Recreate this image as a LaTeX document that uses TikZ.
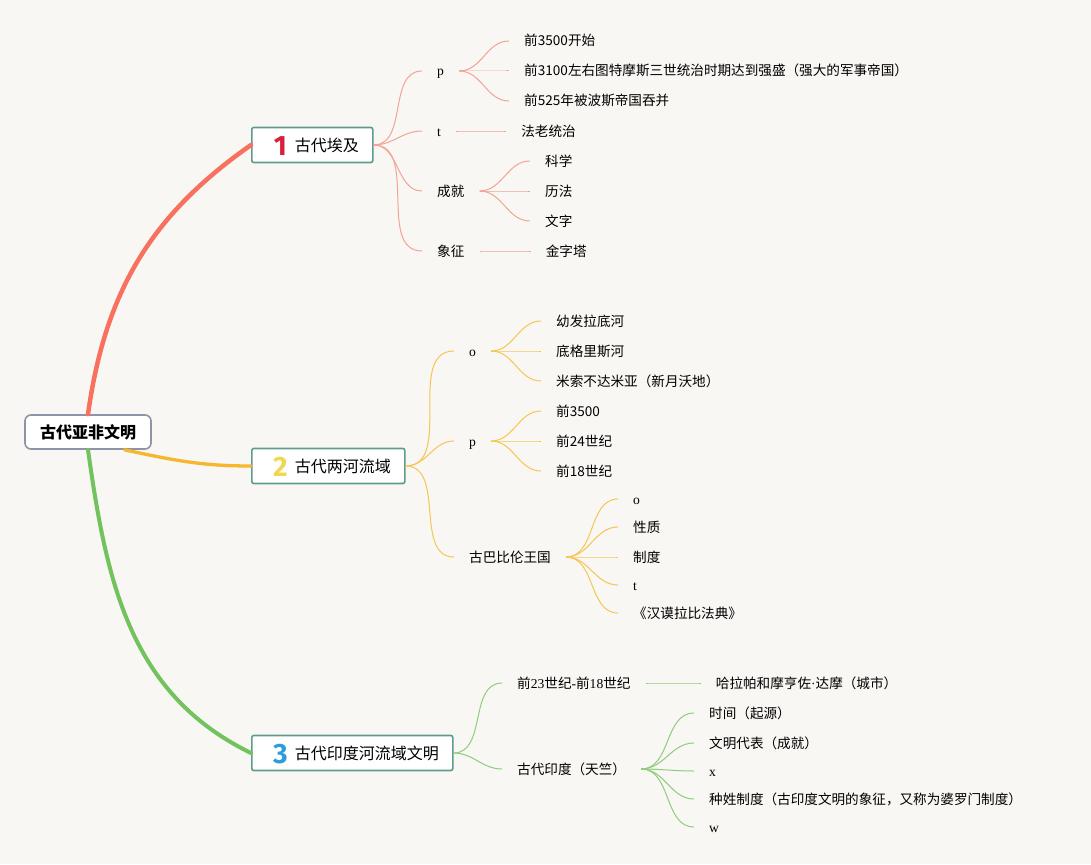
\documentclass[tikz,border=0pt]{standalone}
\usepackage{xcolor}
\usepackage{fontspec}
\usepackage{tikz}
\usetikzlibrary{positioning}

\setmainfont{Noto Sans CJK SC}
\newfontfamily\latinfont{Liberation Serif}
\newfontfamily\numfont{Fira Sans}

\definecolor{paper}{HTML}{F8F7F3}
\definecolor{rootline}{HTML}{8E93A8}
\definecolor{topicline}{HTML}{5E9C8F}
\definecolor{egyptmain}{HTML}{F8705E}
\definecolor{egyptthin}{HTML}{F4A294}
\definecolor{rivermain}{HTML}{F6B62D}
\definecolor{riverthin}{HTML}{F6C552}
\definecolor{indusmain}{HTML}{72C35D}
\definecolor{industhin}{HTML}{8FCC7E}
\definecolor{numone}{HTML}{D71F3B}
\definecolor{numtwo}{HTML}{F1D650}
\definecolor{numthree}{HTML}{2B9CDC}

\newcommand{\topicnum}[2]{\makebox[29pt][c]{\raisebox{-4pt}{\numfont\bfseries\fontsize{28}{28}\selectfont\color{#1}#2}}}
\newcommand{\lat}[1]{{\latinfont #1}}

\begin{document}
\begin{tikzpicture}[
    x = 1pt, y = 1pt, % one unit is one pixel of the sketch
    node distance = 50pt, % length of a single branch
    every node/.style = {font=\fontsize{13.6}{16}\selectfont, text height=12pt, text depth=2pt},
    fan/.style = {out=0, in=180}, % mind map curve
    egyptline/.style = {line width=1pt, egyptthin},
    riverline/.style = {line width=1pt, riverthin},
    indusline/.style = {line width=1pt, industhin},
    main branch/.style = {line cap=round}
]
\tikzstyle{item}=[
    anchor = west,
    inner xsep = 15pt,
    inner ysep = 0pt
]
\tikzstyle{topic}=[
    draw = topicline,
    line width = 1.6pt,
    fill = white,
    rounded corners = 2pt,
    anchor = west,
    minimum height = 35pt,
    inner xsep = 14pt,
    text height = 14pt,
    text depth = 2pt,
    font = \fontsize{16}{18}\selectfont
]
\tikzstyle{root}=[
    draw = rootline,
    line width = 1.6pt,
    fill = white,
    rounded corners = 6pt,
    minimum width = 126pt,
    minimum height = 34pt,
    text height = 14pt,
    text depth = 2pt,
    font = \fontsize{16}{18}\selectfont\bfseries
]

% page
\fill[paper] (0,0) rectangle (1091,-864);
\useasboundingbox (0,0) rectangle (1091,-864);

\node[root] (root) at (88,-432) {古代亚非文明};

\node[topic] (egypt) at (251,-145) {\topicnum{numone}{1}古代埃及};
\node[topic] (river) at (251,-466) {\topicnum{numtwo}{2}古代两河流域};
\node[topic] (indus) at (251,-753) {\topicnum{numthree}{3}古代印度河流域文明};

\draw[main branch, line width=4.5pt, egyptmain] (root.north) to[out=82, in=-145] (egypt.west);
\draw[main branch, line width=3.3pt, rivermain] (root.-26) to[out=-12, in=180] (river.west);
\draw[main branch, line width=4pt, indusmain] (root.south) to[out=-82, in=154] (indus.west);

% egypt
\node[item] (ep) at (422,-71) {\lat{p}};
\node[item] (et) at (422,-131) {\lat{t}};
\node[item] (edone) at (422,-191) {成就};
\node[item] (esign) at (422,-251) {象征};

\node[item] (ep1) at (509,-41) {前3500开始};
\node[item] (ep2) at (509,-71) {前3100左右图特摩斯三世统治时期达到强盛（强大的军事帝国）};
\node[item] (ep3) at (509,-101) {前525年被波斯帝国吞并};
\node[item] (et1) [right=of et] {法老统治};
\node[item] (edone1) at (530,-161) {科学};
\node[item] (edone2) at (530,-191) {历法};
\node[item] (edone3) at (530,-221) {文字};
\node[item] (esign1) [right=51pt of esign] {金字塔};

\path[egyptline] (egypt) edge [fan] (ep);
\path[egyptline] (egypt) edge [fan] (et);
\path[egyptline] (egypt) edge [fan] (edone);
\path[egyptline] (egypt) edge [fan] (esign);
\path[egyptline] (ep) edge [fan] (ep1);
\path[egyptline] (ep) edge [fan] (ep2);
\path[egyptline] (ep) edge [fan] (ep3);
\path[egyptline] (et) edge [fan] (et1);
\path[egyptline] (edone) edge [fan] (edone1);
\path[egyptline] (edone) edge [fan] (edone2);
\path[egyptline] (edone) edge [fan] (edone3);
\path[egyptline] (esign) edge [fan] (esign1);

% two rivers
\node[item] (ro) at (454,-351) {\lat{o}};
\node[item] (rp) at (454,-441) {\lat{p}};
\node[item] (rbab) at (454,-557) {古巴比伦王国};

\node[item] (ro1) at (541,-321) {幼发拉底河};
\node[item] (ro2) at (541,-351) {底格里斯河};
\node[item] (ro3) at (541,-381) {米索不达米亚（新月沃地）};
\node[item] (rp1) at (541,-411) {前3500};
\node[item] (rp2) at (541,-441) {前24世纪};
\node[item] (rp3) at (541,-471) {前18世纪};
\node[item] (rbab1) at (618,-499) {\lat{o}};
\node[item] (rbab2) at (618,-527) {性质};
\node[item] (rbab3) at (618,-557) {制度};
\node[item] (rbab4) at (618,-585) {\lat{t}};
\node[item] (rbab5) at (618,-613) {《汉谟拉比法典》};

\path[riverline] (river) edge [fan] (ro);
\path[riverline] (river) edge [fan] (rp);
\path[riverline] (river) edge [fan] (rbab);
\path[riverline] (ro) edge [fan] (ro1);
\path[riverline] (ro) edge [fan] (ro2);
\path[riverline] (ro) edge [fan] (ro3);
\path[riverline] (rp) edge [fan] (rp1);
\path[riverline] (rp) edge [fan] (rp2);
\path[riverline] (rp) edge [fan] (rp3);
\path[riverline] (rbab) edge [fan] (rbab1);
\path[riverline] (rbab) edge [fan] (rbab2);
\path[riverline] (rbab) edge [fan] (rbab3);
\path[riverline] (rbab) edge [fan] (rbab4);
\path[riverline] (rbab) edge [fan] (rbab5);

% indus
\node[item] (iearly) at (502,-683) {前\lat{23}世纪\lat{-}前\lat{18}世纪};
\node[item] (iindia) at (502,-769) {古代印度（天竺）};

\node[item] (iearly1) [right=55pt of iearly] {哈拉帕和摩亨佐\lat{·}达摩（城市）};
\node[item] (iindia1) at (694,-713) {时间（起源）};
\node[item] (iindia2) at (694,-743) {文明代表（成就）};
\node[item] (iindia3) at (694,-771) {\lat{x}};
\node[item] (iindia4) at (694,-799) {种姓制度（古印度文明的象征，又称为婆罗门制度）};
\node[item] (iindia5) at (694,-827) {\lat{w}};

\path[indusline] (indus) edge [fan] (iearly);
\path[indusline] (indus) edge [fan] (iindia);
\path[indusline] (iearly) edge [fan] (iearly1);
\path[indusline] (iindia) edge [fan] (iindia1);
\path[indusline] (iindia) edge [fan] (iindia2);
\path[indusline] (iindia) edge [fan] (iindia3);
\path[indusline] (iindia) edge [fan] (iindia4);
\path[indusline] (iindia) edge [fan] (iindia5);

\end{tikzpicture}
\end{document}
